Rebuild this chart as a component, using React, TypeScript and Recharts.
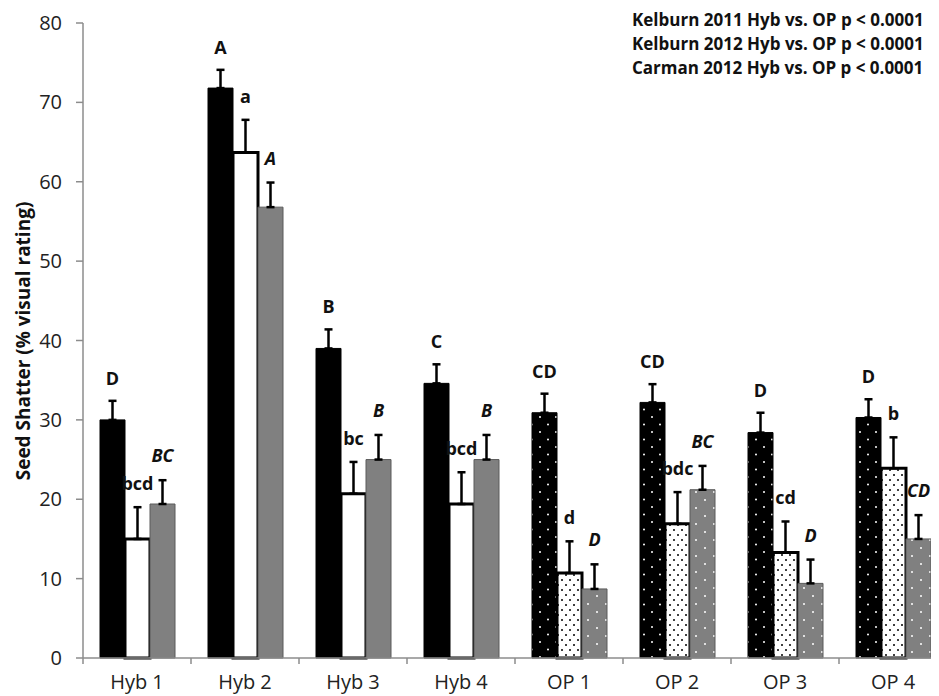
import { Bar, BarChart, Cell, ErrorBar, LabelList, XAxis, YAxis } from "recharts";

const categories = ["Hyb 1", "Hyb 2", "Hyb 3", "Hyb 4", "OP 1", "OP 2", "OP 3", "OP 4"];

const kelburn2011 = [30.0, 71.8, 39.0, 34.6, 30.9, 32.2, 28.4, 30.3];
const kelburn2011Err = [2.4, 2.3, 2.4, 2.4, 2.4, 2.3, 2.5, 2.3];
const kelburn2011Letters = ["D", "A", "B", "C", "CD", "CD", "D", "D"];

const kelburn2012 = [15.0, 63.7, 20.7, 19.4, 10.7, 16.9, 13.3, 23.9];
const kelburn2012Err = [4.0, 4.1, 4.0, 4.0, 4.0, 4.0, 3.9, 3.9];
const kelburn2012Letters = ["bcd", "a", "bc", "bcd", "d", "bdc", "cd", "b"];

const carman2012 = [19.4, 56.8, 25.0, 25.0, 8.7, 21.2, 9.4, 15.0];
const carman2012Err = [3.0, 3.1, 3.1, 3.1, 3.1, 3.0, 3.0, 3.0];
const carman2012Letters = ["BC", "A", "B", "B", "D", "BC", "D", "CD"];

const yTicks = [0, 10, 20, 30, 40, 50, 60, 70, 80];

const notes = [
  "Kelburn 2011 Hyb vs. OP p < 0.0001",
  "Kelburn 2012 Hyb vs. OP p < 0.0001",
  "Carman 2012 Hyb vs. OP p < 0.0001",
];

const data = categories.map((name, i) => ({
  name,
  k11: kelburn2011[i],
  k11Err: [0, kelburn2011Err[i]],
  k12: kelburn2012[i],
  k12Err: [0, kelburn2012Err[i]],
  c12: carman2012[i],
  c12Err: [0, carman2012Err[i]],
}));

const isOP = (name: string) => name.startsWith("OP");

const FONT = "'Open Sans', sans-serif";
const CHART_W = 940;
const CHART_H = 688;
const Y_AXIS_W = 75;
const MARGIN = { top: 15, right: 1, left: 0, bottom: 0 };
const BAND = (CHART_W - MARGIN.left - MARGIN.right - Y_AXIS_W) / categories.length;

function XTick(props: any) {
  const { x, y, payload } = props;
  return (
    <g>
      <line x1={x - BAND / 2} x2={x - BAND / 2} y1={y} y2={y + 6} stroke="#8c8c8c" strokeWidth={1.5} />
      <text x={x} y={y + 31} textAnchor="middle" fontFamily={FONT} fontSize={20} fill="#222">
        {payload.value}
      </text>
    </g>
  );
}

// letra de significância acima da barra de erro
function letterLabel(values: number[], errs: number[], letters: string[], italic: boolean, offset: number) {
  return (props: any) => {
    const { x, y, width, height, index } = props;
    const v = values[index];
    if (!v) return null;
    const errTop = Number(y) - (errs[index] * Number(height)) / v;
    return (
      <text
        x={Number(x) + Number(width) / 2}
        y={errTop - offset}
        textAnchor="middle"
        dominantBaseline="central"
        fontFamily={FONT}
        fontSize={18}
        fontWeight="bold"
        fontStyle={italic ? "italic" : "normal"}
        fill="#111"
      >
        {letters[index]}
      </text>
    );
  };
}

export default function App() {
  return (
    <div style={{ position: "relative", width: 931, height: CHART_H, overflow: "hidden" }}>
      <svg width={0} height={0} style={{ position: "absolute" }}>
        <defs>
          <pattern id="dotsBlack" width={16} height={15} patternUnits="userSpaceOnUse">
            <rect width={16} height={15} fill="#000" />
            <circle cx={4} cy={4} r={1} fill="#fff" />
            <circle cx={12} cy={11.5} r={1} fill="#fff" />
          </pattern>
          <pattern id="dotsWhite" width={8} height={10} patternUnits="userSpaceOnUse">
            <rect width={8} height={10} fill="#fff" />
            <circle cx={2} cy={2} r={1} fill="#000" />
            <circle cx={6} cy={7} r={1} fill="#000" />
          </pattern>
          <pattern id="dotsGray" width={18} height={16} patternUnits="userSpaceOnUse">
            <rect width={18} height={16} fill="#808080" />
            <circle cx={4} cy={4} r={1} fill="#fff" />
            <circle cx={13} cy={12} r={1} fill="#fff" />
          </pattern>
        </defs>
      </svg>

      <BarChart
        width={CHART_W}
        height={CHART_H}
        data={data}
        margin={MARGIN}
        barCategoryGap={17}
        barGap={0}
      >
        <XAxis
          dataKey="name"
          height={38}
          axisLine={{ stroke: "#8c8c8c", strokeWidth: 1.5 }}
          tickLine={false}
          tickSize={0}
          tickMargin={0}
          tick={<XTick />}
          interval={0}
        />
        <YAxis
          width={Y_AXIS_W}
          domain={[0, 80]}
          ticks={yTicks}
          interval={0}
          axisLine={{ stroke: "#8c8c8c", strokeWidth: 1.5 }}
          tickLine={{ stroke: "#8c8c8c", strokeWidth: 1.5 }}
          tickSize={7}
          tickMargin={14}
          tick={{ fontFamily: FONT, fontSize: 20, fill: "#222" }}
          label={{
            content: () => (
              <text
                x={15}
                y={333}
                transform="rotate(-90, 15, 333)"
                textAnchor="middle"
                dominantBaseline="central"
                fontFamily={FONT}
                fontSize={19}
                fontWeight="bold"
                fill="#111"
              >
                Seed Shatter (% visual rating)
              </text>
            ),
          }}
        />
        <Bar dataKey="k11" fill="#000" stroke="#000" strokeWidth={1} isAnimationActive={false}>
          {data.map((d) => (
            <Cell key={d.name} fill={isOP(d.name) ? "url(#dotsBlack)" : "#000"} />
          ))}
          <ErrorBar dataKey="k11Err" width={4} strokeWidth={2.5} stroke="#000" direction="y" />
          <LabelList content={letterLabel(kelburn2011, kelburn2011Err, kelburn2011Letters, false, 23)} />
        </Bar>
        <Bar dataKey="k12" fill="#fff" stroke="#000" strokeWidth={3} isAnimationActive={false}>
          {data.map((d) => (
            <Cell key={d.name} fill={isOP(d.name) ? "url(#dotsWhite)" : "#fff"} />
          ))}
          <ErrorBar dataKey="k12Err" width={4} strokeWidth={2.5} stroke="#000" direction="y" />
          <LabelList content={letterLabel(kelburn2012, kelburn2012Err, kelburn2012Letters, false, 24)} />
        </Bar>
        <Bar dataKey="c12" fill="#808080" stroke="#5a5a5a" strokeWidth={1} isAnimationActive={false}>
          {data.map((d) => (
            <Cell key={d.name} fill={isOP(d.name) ? "url(#dotsGray)" : "#808080"} />
          ))}
          <ErrorBar dataKey="c12Err" width={4} strokeWidth={2.5} stroke="#000" direction="y" />
          <LabelList content={letterLabel(carman2012, carman2012Err, carman2012Letters, true, 25)} />
        </Bar>
      </BarChart>

      <div
        style={{
          position: "absolute",
          left: 624,
          top: 0,
          fontFamily: FONT,
          fontSize: 17,
          fontWeight: "bold",
          lineHeight: "24px",
          color: "#111",
          whiteSpace: "nowrap",
        }}
      >
        {notes.map((n) => (
          <div key={n}>{n}</div>
        ))}
      </div>
    </div>
  );
}
